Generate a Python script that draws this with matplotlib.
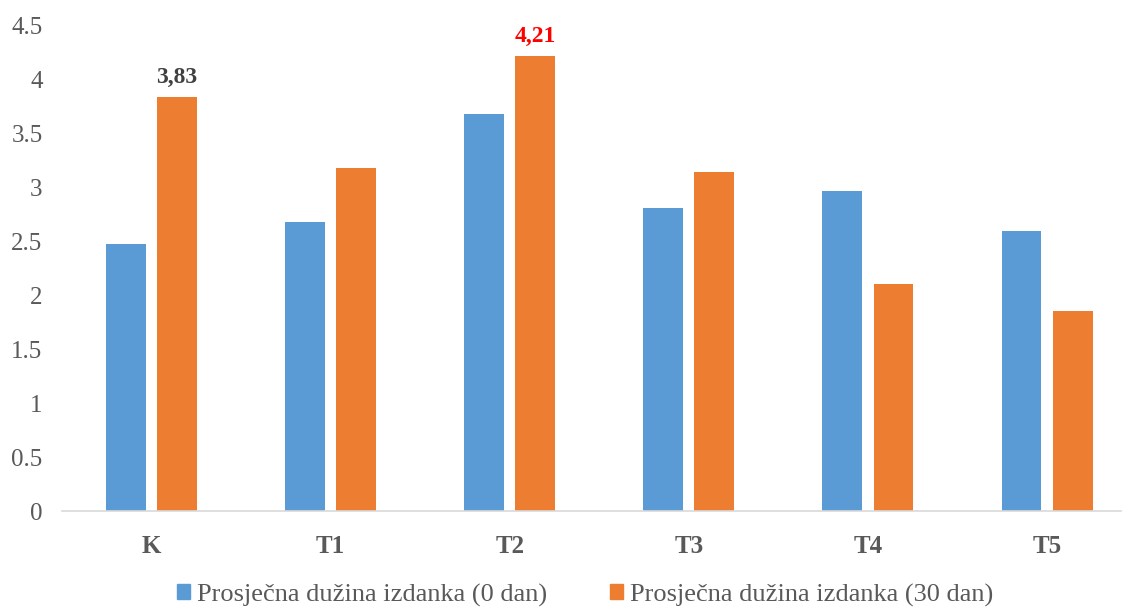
import matplotlib.pyplot as plt
import numpy as np
from matplotlib.patches import Patch

plt.rcParams['font.family'] = ['Liberation Serif', 'DejaVu Serif']

categories = ['K', 'T1', 'T2', 'T3', 'T4', 'T5']
day0 = [2.47, 2.68, 3.68, 2.81, 2.96, 2.59]
day30 = [3.83, 3.18, 4.21, 3.14, 2.10, 1.85]
labels = ['Prosječna dužina izdanka (0 dan)', 'Prosječna dužina izdanka (30 dan)']
yticks = [0, 0.5, 1, 1.5, 2, 2.5, 3, 3.5, 4, 4.5]
ytick_labels = ['0', '0.5', '1', '1.5', '2', '2.5', '3', '3.5', '4', '4.5']

BLUE = '#5B9BD5'
ORANGE = '#ED7D31'
GREY = '#595959'

W, H = 1123, 608
fig = plt.figure(figsize=(W / 100, H / 100), dpi=100)
ax = fig.add_axes([62 / W, (H - 511) / H, (1121 - 62) / W, (511 - 25) / H])

x = np.arange(len(categories))
bw = 0.223
off = 0.1425
ax.bar(x - off, day0, bw, color=BLUE)
ax.bar(x + off, day30, bw, color=ORANGE)

# labels only on K and T2 orange bars
ax.text(x[0] + off, day30[0] + 0.09, '3,83', ha='center', va='bottom',
        fontsize=17, fontweight='bold', color='#404040')
ax.text(x[2] + off, day30[2] + 0.09, '4,21', ha='center', va='bottom',
        fontsize=17, fontweight='bold', color='#FF0000')

ax.set_xlim(-0.5, -0.5 + (1121 - 62) / 179.1)
ax.set_ylim(0, 4.5)
ax.set_yticks(yticks)
ax.set_yticklabels(ytick_labels)
ax.set_xticks(x)
ax.set_xticklabels(categories, fontweight='bold')
ax.tick_params(axis='y', length=0, pad=14, labelsize=18, labelcolor=GREY)
ax.tick_params(axis='x', length=0, pad=17, labelsize=18, labelcolor=GREY)

for s in ['top', 'right', 'left']:
    ax.spines[s].set_visible(False)
ax.spines['bottom'].set_color('#D9D9D9')
ax.spines['bottom'].set_linewidth(1.2)

handles = [Patch(color=BLUE), Patch(color=ORANGE)]
leg = fig.legend(handles, labels, loc='center', bbox_to_anchor=(585 / W, 1 - 595 / H),
                 ncol=2, frameon=False, fontsize=19, handlelength=0.5, handleheight=0.5,
                 handletextpad=0.25, columnspacing=2.4)
for t in leg.get_texts():
    t.set_color(GREY)

fig.savefig('out.png', dpi=100)
